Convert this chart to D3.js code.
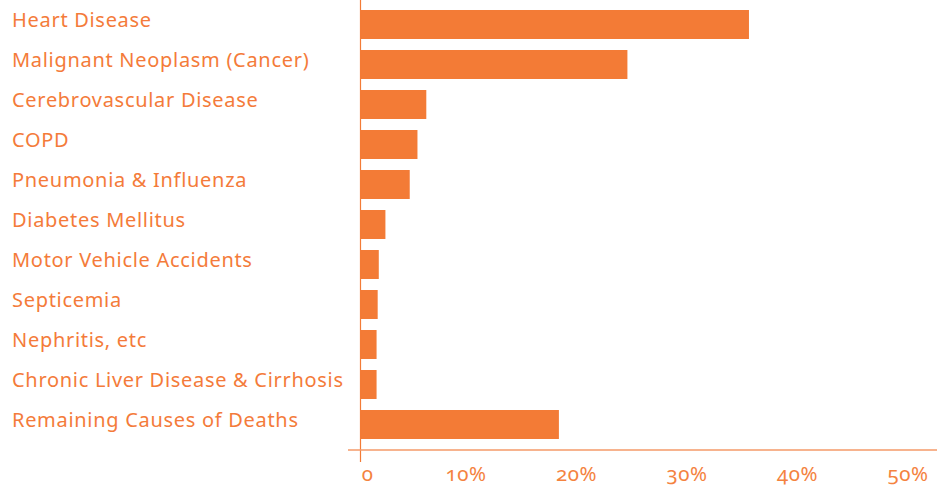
<!DOCTYPE html>
<html>
<head>
<meta charset="utf-8">
<script src="https://cdn.jsdelivr.net/npm/d3@7"></script>
<style>
  html, body { margin: 0; padding: 0; background: #fff; }
  svg { display: block; }
  text { font-family: "Noto Sans", "Open Sans", sans-serif; }
</style>
</head>
<body>
<svg id="chart" width="945" height="488"></svg>
<script>
const categories = [
  "Heart Disease",
  "Malignant Neoplasm (Cancer)",
  "Cerebrovascular Disease",
  "COPD",
  "Pneumonia & Influenza",
  "Diabetes Mellitus",
  "Motor Vehicle Accidents",
  "Septicemia",
  "Nephritis, etc",
  "Chronic Liver Disease & Cirrhosis",
  "Remaining Causes of Deaths"
];
const values = [35.2, 24.2, 6.0, 5.2, 4.5, 2.3, 1.7, 1.6, 1.5, 1.5, 18.0];
const tickValues = [0, 10, 20, 30, 40, 50];
const tickLabels = ["0", "10%", "20%", "30%", "40%", "50%"];

const orange = "#F37B36";
const svg = d3.select("#chart");

const x = d3.scaleLinear().domain([0, 50]).range([360, 912.5]);
const y = d3.scaleBand().domain(categories).range([4.5, 444.5]).paddingInner(0.275).paddingOuter(0.1375);

// bars
svg.append("g").selectAll("rect")
  .data(categories)
  .join("rect")
  .attr("x", x(0))
  .attr("y", d => y(d))
  .attr("width", (d, i) => x(values[i]) - x(0))
  .attr("height", y.bandwidth())
  .attr("fill", orange);

// category labels
svg.append("g").selectAll("text")
  .data(categories)
  .join("text")
  .attr("x", 12)
  .attr("y", d => y(d) + y.bandwidth() / 2 + 2.5)
  .attr("fill", "#F47B3A")
  .attr("font-size", "20px")
  .attr("letter-spacing", "0.7px")
  .text(d => d);

// vertical axis line
svg.append("line")
  .attr("x1", x(0) + 0.5).attr("x2", x(0) + 0.5)
  .attr("y1", 0).attr("y2", 462)
  .attr("stroke", orange).attr("stroke-width", 1.2);

// horizontal axis line
svg.append("line")
  .attr("x1", 348).attr("x2", 937)
  .attr("y1", 450).attr("y2", 450)
  .attr("stroke", "#F49A68").attr("stroke-width", 1.3);

// x axis labels
const xAxis = d3.axisBottom(x)
  .tickValues(tickValues)
  .tickSize(0)
  .tickFormat((d, i) => tickLabels[i]);
const gx = svg.append("g").attr("transform", "translate(0,450)").call(xAxis);
gx.select(".domain").remove();
gx.selectAll("text")
  .attr("y", 31)
  .attr("dy", 0)
  .attr("dx", d => d === 0 ? 7 : -5)
  .attr("fill", "#F4833F")
  .attr("font-size", "20.5px")
  .attr("letter-spacing", "0.5px")
  .style("font-family", "\"Noto Sans\", sans-serif")
  .style("font-variant-numeric", "oldstyle-nums");
</script>
</body>
</html>
